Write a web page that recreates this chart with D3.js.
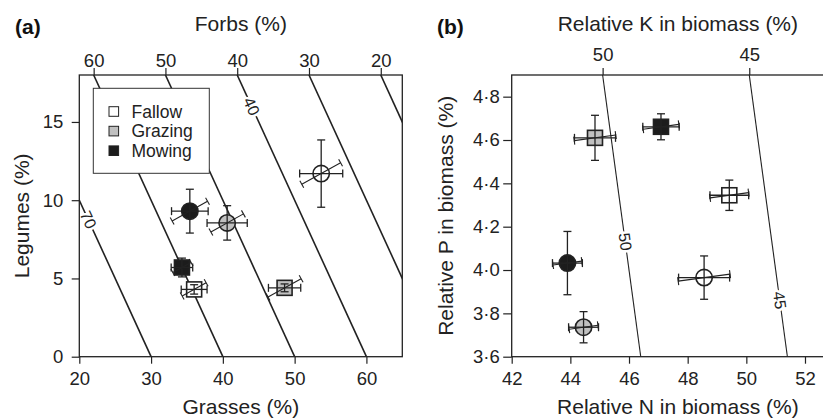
<!DOCTYPE html>
<html>
<head>
<meta charset="utf-8">
<script src="https://cdn.jsdelivr.net/npm/d3@7"></script>
<style>
body { margin: 0; background: #fff; }
svg { font-family: "Liberation Sans", Arial, Helvetica, sans-serif; }
</style>
</head>
<body>
<script>
// panel (a) - functional groups
const aTreatment = ["Fallow", "Grazing", "Mowing", "Fallow", "Grazing", "Mowing"];
const aShape = ["circle", "circle", "circle", "square", "square", "square"];
const grasses = [53.7, 40.6, 35.4, 36.0, 48.6, 34.3];
const grassesSE = [3.0, 2.8, 2.55, 1.8, 2.25, 1.5];
const legumes = [11.7, 8.55, 9.3, 4.3, 4.4, 5.7];
const legumesSE = [2.15, 1.1, 1.4, 0.3, 0.25, 0.6];
const forbsSE = [3.4, 2.85, 3.1, 2.1, 2.9, 1.6];

const forbsLevels = [70, 60, 50, 40, 30, 20];
const forbsTicks = [60, 50, 40, 30, 20];
const forbsLabelLevels = [70, 40];
const forbsLabelLegumes = [8.75, 16.0];
const grassesTicks = [20, 30, 40, 50, 60];
const legumesTicks = [0, 5, 10, 15];

// panel (b) - nutrients
const bTreatment = ["Fallow", "Grazing", "Mowing", "Fallow", "Grazing", "Mowing"];
const bShape = ["circle", "circle", "circle", "square", "square", "square"];
const nitrogen = [48.56, 44.45, 43.9, 49.42, 44.84, 47.09];
const nitrogenSE = [0.87, 0.51, 0.51, 0.66, 0.7, 0.62];
const phosphorus = [3.965, 3.736, 4.032, 4.345, 4.61, 4.661];
const phosphorusSE = [0.1, 0.072, 0.146, 0.07, 0.104, 0.06];
const potassiumSE = [0.9, 0.5, 0.5, 0.67, 0.72, 0.62];

const kLevels = [50, 45];
const kTicks = [50, 45];
const kLabelLevels = [50, 45];
const kLabelP = [4.13, 3.86];
const nTicks = [42, 44, 46, 48, 50, 52];
const pTicks = [3.6, 3.8, 4.0, 4.2, 4.4, 4.6, 4.8];

const legendItems = ["Fallow", "Grazing", "Mowing"];

const width = 823;
const height = 419;
const ink = "#222";
const fillOf = {Fallow: "#fff", Grazing: "#c0c0c0", Mowing: "#1c1c1c"};
const capLen = 8;

const svg = d3.select("body").append("svg")
  .attr("width", width)
  .attr("height", height);

svg.append("rect").attr("width", width).attr("height", height).attr("fill", "#fff");

const xA = d3.scaleLinear().domain([20, 65]).range([79.3, 402.3]);
const yA = d3.scaleLinear().domain([0, 18]).range([356.7, 75]);
const xB = d3.scaleLinear().domain([42, 53.33]).range([511.7, 844]);
const yB = d3.scaleLinear().domain([3.6, 4.9]).range([356.7, 75]);

// third component = 100 - x - y, top axis shows it along the upper edge
const fA = d3.scaleLinear().domain([100 - 18 - 20, 100 - 18 - 65]).range(xA.range());
const kB = d3.scaleLinear().domain([100 - 4.9 - 42, 100 - 4.9 - 53.33]).range(xB.range());

function styleAxis(g, size) {
  g.select(".domain").remove();
  g.selectAll(".tick line").attr("stroke", ink).attr("stroke-width", 1.2);
  g.selectAll(".tick text").attr("fill", ink).style("font-size", size + "px")
    .style("font-family", "'Liberation Sans', Arial, sans-serif");
}

function drawMarker(g, shape, treat, cx, cy) {
  if (shape === "circle") {
    g.append("circle").attr("cx", cx).attr("cy", cy).attr("r", 8.2)
      .attr("fill", fillOf[treat]).attr("stroke", ink).attr("stroke-width", 1.6);
  } else {
    g.append("rect").attr("x", cx - 7.5).attr("y", cy - 7.5)
      .attr("width", 15).attr("height", 15)
      .attr("fill", fillOf[treat]).attr("stroke", ink).attr("stroke-width", 1.6);
  }
}

function bar(g, x1, y1, x2, y2, w) {
  g.append("line").attr("x1", x1).attr("y1", y1).attr("x2", x2).attr("y2", y2)
    .attr("stroke", ink).attr("stroke-width", w || 1.3);
}

function errorBars(g, cx, cy, yLo, yHi, xLo, xHi, ux, uy, half) {
  // vertical
  bar(g, cx, yLo, cx, yHi);
  bar(g, cx - capLen / 2, yLo, cx + capLen / 2, yLo);
  bar(g, cx - capLen / 2, yHi, cx + capLen / 2, yHi);
  // horizontal
  bar(g, xLo, cy, xHi, cy);
  bar(g, xLo, cy - capLen / 2, xLo, cy + capLen / 2);
  bar(g, xHi, cy - capLen / 2, xHi, cy + capLen / 2);
  // third component, across the isolines
  const ax = cx - ux * half, ay = cy - uy * half;
  const bx = cx + ux * half, by = cy + uy * half;
  bar(g, ax, ay, bx, by, 1.1);
  const px = -uy * capLen / 2, py = ux * capLen / 2;
  bar(g, ax - px, ay - py, ax + px, ay + py, 1.1);
  bar(g, bx - px, by - py, bx + px, by + py, 1.1);
}

function drawPanel(o) {
  const x = o.x, y = o.y;
  const [l, r] = x.range();
  const [b, t] = y.range();
  const g = svg.append("g");

  g.append("clipPath").attr("id", "clip" + o.id)
    .append("rect").attr("x", l).attr("y", t).attr("width", r - l).attr("height", b - t);

  // isolines
  const y0 = y.domain()[0], y1 = y.domain()[1];
  const iso = g.append("g").attr("clip-path", "url(#clip" + o.id + ")");
  o.levels.forEach(v => {
    iso.append("line")
      .attr("x1", x(100 - v - y0)).attr("y1", y(y0))
      .attr("x2", x(100 - v - y1)).attr("y2", y(y1))
      .attr("stroke", ink).attr("stroke-width", o.isoWidth);
  });
  const angle = Math.atan2(y(0) - y(1), x(1) - x(0)) * 180 / Math.PI;
  o.labelLevels.forEach((v, i) => {
    const ly = o.labelAt[i];
    iso.append("text")
      .attr("transform", `translate(${x(100 - v - ly)},${y(ly)}) rotate(${angle})`)
      .attr("text-anchor", "middle").attr("dy", "0.35em")
      .attr("fill", ink).attr("stroke", "#fff").attr("stroke-width", 5)
      .attr("paint-order", "stroke")
      .style("font-size", "16px")
      .text(v);
  });

  // axes
  g.append("g").attr("transform", `translate(0,${b})`)
    .call(d3.axisBottom(x).tickValues(o.xTicks).tickSize(7).tickPadding(8))
    .call(a => styleAxis(a, 18.5));
  g.append("g").attr("transform", `translate(${l},0)`)
    .call(d3.axisLeft(y).tickValues(o.yTicks).tickSize(o.yTickSize).tickPadding(o.yPad).tickFormat(o.yFormat))
    .call(a => styleAxis(a, 18.5));
  g.append("g").attr("transform", `translate(0,${t})`)
    .call(d3.axisTop(o.top).tickValues(o.topTicks).tickSize(7).tickPadding(o.topPad))
    .call(a => styleAxis(a, 18.5));

  g.append("rect").attr("x", l).attr("y", t).attr("width", r - l).attr("height", b - t)
    .attr("fill", "none").attr("stroke", ink).attr("stroke-width", 1.3);

  // titles
  g.append("text").attr("x", (l + r) / 2).attr("y", o.bottomTitleY)
    .attr("text-anchor", "middle").attr("fill", ink).style("font-size", "21px").text(o.xTitle);
  g.append("text").attr("x", (l + r) / 2).attr("y", 30.5)
    .attr("text-anchor", "middle").attr("fill", ink).style("font-size", "21px").text(o.topTitle);
  g.append("text").attr("transform", `translate(${o.yTitleX},${(t + b) / 2}) rotate(-90)`)
    .attr("text-anchor", "middle").attr("fill", ink).style("font-size", "21px").text(o.yTitle);
  g.append("text").attr("x", o.tagX).attr("y", 33.5)
    .attr("fill", "#111").style("font-size", "21px").style("font-weight", "bold").text(o.tag);

  if (o.legend) o.legend(g);

  // perpendicular distance (px) between isolines one unit apart
  const dx = x(1) - x(0), dy = y(0) - y(1);
  const perUnit = dx * dy / Math.hypot(dx, dy);
  const tilt = o.tilt * Math.PI / 180;
  const ux = Math.cos(tilt), uy = -Math.sin(tilt);

  const pts = g.append("g");
  o.xs.forEach((xv, i) => {
    const cx = x(xv), cy = y(o.ys[i]);
    drawMarker(pts, o.shape[i], o.treat[i], cx, cy);
    errorBars(pts, cx, cy,
      y(o.ys[i] - o.ySE[i]), y(o.ys[i] + o.ySE[i]),
      x(xv - o.xSE[i]), x(xv + o.xSE[i]),
      ux, uy, o.zSE[i] * perUnit);
  });
}

drawPanel({
  id: "a", x: xA, y: yA, top: fA, tag: "(a)", tagX: 15,
  levels: forbsLevels, labelLevels: forbsLabelLevels, labelAt: forbsLabelLegumes, isoWidth: 1.6,
  xTicks: grassesTicks, yTicks: legumesTicks, topTicks: forbsTicks,
  yTickSize: 7.6, yPad: 8.5, topPad: 1.5, yFormat: d3.format("d"),
  xTitle: "Grasses (%)", topTitle: "Forbs (%)", yTitle: "Legumes (%)", yTitleX: 28.5, bottomTitleY: 413.5,
  xs: grasses, xSE: grassesSE, ys: legumes, ySE: legumesSE, zSE: forbsSE,
  shape: aShape, treat: aTreatment, tilt: 29,
  legend: g => {
    g.append("rect").attr("x", 93.3).attr("y", 88.3).attr("width", 116).attr("height", 85)
      .attr("fill", "#fff").attr("stroke", "#333").attr("stroke-width", 1);
    legendItems.forEach((d, i) => {
      const cy = 111.5 + i * 19.6;
      g.append("rect").attr("x", 109).attr("y", cy - 4.8).attr("width", 9.6).attr("height", 9.6)
        .attr("fill", fillOf[d]).attr("stroke", ink).attr("stroke-width", 1);
      g.append("text").attr("x", 131.5).attr("y", cy).attr("dy", "0.36em")
        .attr("fill", ink).style("font-size", "17.5px").text(d);
    });
  }
});

drawPanel({
  id: "b", x: xB, y: yB, top: kB, tag: "(b)", tagX: 437,
  levels: kLevels, labelLevels: kLabelLevels, labelAt: kLabelP, isoWidth: 1.1,
  xTicks: nTicks, yTicks: pTicks, topTicks: kTicks,
  yTickSize: 8.5, yPad: 3.5, topPad: 7, yFormat: d => d.toFixed(1).replace(".", "\u00b7"),
  xTitle: "Relative N in biomass (%)", topTitle: "Relative K in biomass (%)",
  yTitle: "Relative P in biomass (%)", yTitleX: 453, bottomTitleY: 414,
  xs: nitrogen, xSE: nitrogenSE, ys: phosphorus, ySE: phosphorusSE, zSE: potassiumSE,
  shape: bShape, treat: bTreatment, tilt: 7.7
});
</script>
</body>
</html>
